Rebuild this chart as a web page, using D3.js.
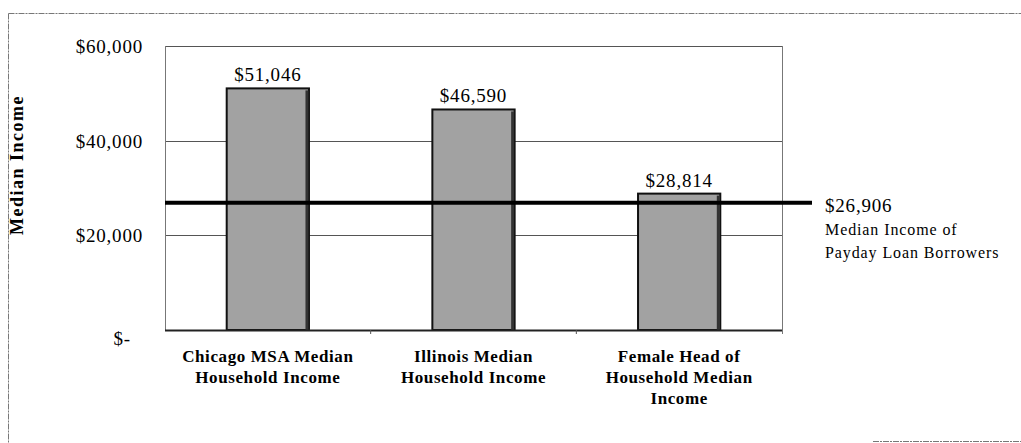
<!DOCTYPE html>
<html>
<head>
<meta charset="utf-8">
<script src="https://cdn.jsdelivr.net/npm/d3@7"></script>
<style>
  body { margin: 0; background: #fff; }
  svg { display: block; font-family: "Liberation Serif", "Times New Roman", serif; }
</style>
</head>
<body>
<svg id="chart" width="1021" height="443"></svg>
<script>
const categories = [
  ['Chicago MSA Median', 'Household Income'],
  ['Illinois Median', 'Household Income'],
  ['Female Head of', 'Household Median', 'Income']
];
const values = [51046, 46590, 28814];
const yTicks = [0, 20000, 40000, 60000];
const borrowerValue = 26906;
const borrowerLabel = ['Median Income of', 'Payday Loan Borrowers'];

const svg = d3.select('svg#chart');
const plot = { left: 165, right: 782, top: 46, bottom: 330 };

const x = d3.scaleBand()
  .domain(d3.range(categories.length))
  .range([plot.left, plot.right])
  .paddingInner(0.6)
  .paddingOuter(0.3);

const y = d3.scaleLinear()
  .domain([0, 60000])
  .range([plot.bottom, plot.top]);

const money = d => d === 0 ? '$-' : '$' + d3.format(',')(d);

// outer frame, scanned look
const frame = svg.append('g')
  .attr('fill', 'none')
  .attr('stroke', '#777')
  .attr('stroke-width', 1)
  .attr('stroke-dasharray', '6,1,2,1');
frame.append('line').attr('x1', 8.5).attr('x2', 8.5).attr('y1', 13.5).attr('y2', 443);
frame.append('line').attr('x1', 8.5).attr('x2', 1021).attr('y1', 13.5).attr('y2', 13.5);
frame.append('line').attr('x1', 873).attr('x2', 1021).attr('y1', 441.5).attr('y2', 441.5);

// gridlines
svg.append('g')
  .selectAll('line')
  .data(yTicks.filter(d => d > 0))
  .join('line')
    .attr('x1', plot.left)
    .attr('x2', plot.right)
    .attr('y1', d => Math.round(y(d)) + 0.5)
    .attr('y2', d => Math.round(y(d)) + 0.5)
    .attr('stroke', '#555')
    .attr('stroke-width', 1);

// right + left border of plot area
svg.append('line')
  .attr('x1', plot.right + 0.5).attr('x2', plot.right + 0.5)
  .attr('y1', plot.top).attr('y2', plot.bottom + 4)
  .attr('stroke', '#777');
svg.append('line')
  .attr('x1', plot.left + 0.5).attr('x2', plot.left + 0.5)
  .attr('y1', plot.top).attr('y2', plot.bottom)
  .attr('stroke', '#777');

// y tick labels
svg.append('g')
  .selectAll('text')
  .data(yTicks)
  .join('text')
    .attr('x', d => d === 0 ? 131 : 143)
    .attr('y', d => y(d) + (d === 0 ? 15 : 7))
    .attr('text-anchor', 'end')
    .attr('font-size', 19)
    .attr('letter-spacing', 0.8)
    .text(money);

// y title
svg.append('text')
  .attr('transform', 'translate(23,165) rotate(-90)')
  .attr('text-anchor', 'middle')
  .attr('font-size', 18)
  .attr('font-weight', 'bold')
  .attr('letter-spacing', 1.5)
  .text('Median Income');

// bars
const bars = svg.append('g');
bars.selectAll('rect')
  .data(values)
  .join('rect')
    .attr('x', (d, i) => x(i))
    .attr('y', d => y(d))
    .attr('width', x.bandwidth())
    .attr('height', d => y(0) - y(d))
    .attr('fill', '#a2a2a2')
    .attr('stroke', '#111')
    .attr('stroke-width', 2);
bars.selectAll('line.shade')
  .data(values)
  .join('line')
    .attr('class', 'shade')
    .attr('x1', (d, i) => x(i) + x.bandwidth() - 2)
    .attr('x2', (d, i) => x(i) + x.bandwidth() - 2)
    .attr('y1', d => y(d) + 2)
    .attr('y2', y(0))
    .attr('stroke', '#333')
    .attr('stroke-width', 3);

// value labels
svg.append('g')
  .selectAll('text')
  .data(values)
  .join('text')
    .attr('x', (d, i) => x(i) + x.bandwidth() / 2)
    .attr('y', d => y(d) - 7)
    .attr('text-anchor', 'middle')
    .attr('font-size', 19)
    .attr('letter-spacing', 0.8)
    .text(money);

// x axis
svg.append('line')
  .attr('x1', plot.left).attr('x2', plot.right)
  .attr('y1', plot.bottom + 0.5).attr('y2', plot.bottom + 0.5)
  .attr('stroke', '#222')
  .attr('stroke-width', 2);
svg.append('g')
  .selectAll('line')
  .data(d3.range(1, categories.length))
  .join('line')
    .attr('x1', i => x(i) - x.step() * x.paddingInner() / 2)
    .attr('x2', i => x(i) - x.step() * x.paddingInner() / 2)
    .attr('y1', plot.bottom)
    .attr('y2', plot.bottom + 4)
    .attr('stroke', '#555');

// category labels
svg.append('g')
  .selectAll('text')
  .data(categories)
  .join('text')
    .attr('text-anchor', 'middle')
    .attr('font-size', 17)
    .attr('font-weight', 'bold')
    .attr('letter-spacing', 0.6)
    .selectAll('tspan')
    .data((d, i) => d.map(t => ({ t, i })))
    .join('tspan')
      .attr('x', d => x(d.i) + x.bandwidth() / 2)
      .attr('y', (d, j) => 362 + j * 21)
      .text(d => d.t);

// borrower reference line
svg.append('line')
  .attr('x1', plot.left)
  .attr('x2', 812)
  .attr('y1', y(borrowerValue))
  .attr('y2', y(borrowerValue))
  .attr('stroke', '#000')
  .attr('stroke-width', 4);

svg.append('text')
  .attr('x', 825)
  .attr('y', y(borrowerValue) + 9)
  .attr('font-size', 19)
  .attr('letter-spacing', 0.8)
  .text(money(borrowerValue));
svg.append('g')
  .selectAll('text')
  .data(borrowerLabel)
  .join('text')
    .attr('x', 825)
    .attr('y', (d, i) => y(borrowerValue) + 32 + i * 23)
    .attr('font-size', 16)
    .attr('letter-spacing', 0.9)
    .text(d => d);
</script>
</body>
</html>
